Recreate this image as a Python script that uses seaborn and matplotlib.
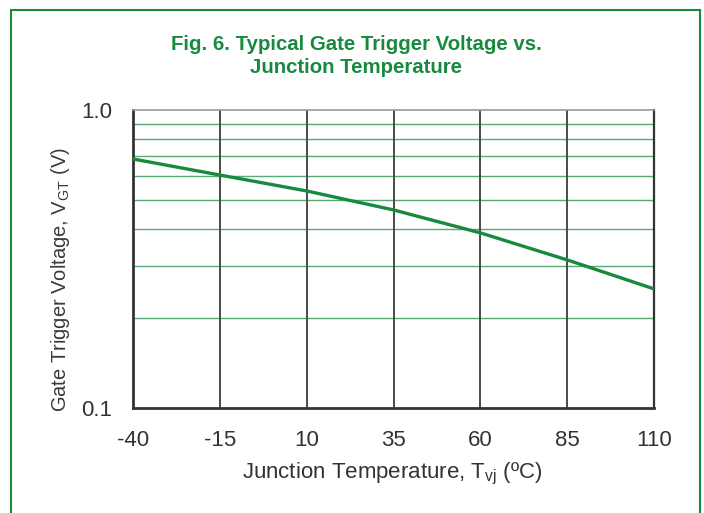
import matplotlib
matplotlib.use("Agg")
import matplotlib.pyplot as plt
import matplotlib.ticker as mticker
from matplotlib.patches import Rectangle
import seaborn as sns
import pandas as pd

# Data
temperature_c = [-40, -15, 10, 35, 60, 85, 110]
vgt_volts = [0.685, 0.605, 0.535, 0.462, 0.387, 0.314, 0.251]
x_ticks = [-40, -15, 10, 35, 60, 85, 110]
y_ticks = [0.1, 1.0]
y_tick_labels = ["0.1", "1.0"]
y_minor = [0.2, 0.3, 0.4, 0.5, 0.6, 0.7, 0.8, 0.9]

title = "Fig. 6. Typical Gate Trigger Voltage vs.\nJunction Temperature"
xlabel = "Junction Temperature, T$_{\\mathregular{vj}}$ (ºC)"
ylabel = "Gate Trigger Voltage, V$_{\\mathregular{GT}}$ (V)"

GREEN = "#188a3e"
GRID_GREEN = "#5aa876"
TEXT = "#333333"

sns.set_style("white")
plt.rcParams["font.family"] = ["Liberation Sans", "DejaVu Sans"]
plt.rcParams["mathtext.fontset"] = "custom"
plt.rcParams["mathtext.rm"] = "Liberation Sans"

df = pd.DataFrame({"T": temperature_c, "V": vgt_volts})

fig = plt.figure(figsize=(7.04, 5.13), dpi=100)
ax = fig.add_axes([133/704, 1-408/513, (654-133)/704, (408-110)/513])

# border around figure
fig.patches.append(Rectangle((11/704, -0.2), (700-11)/704, 1.2 - 10/513,
                             transform=fig.transFigure, fill=False,
                             edgecolor=GREEN, linewidth=1.5))

ax.set_yscale("log")
ax.set_ylim(0.1, 1.0)
ax.set_xlim(-40, 110)

# minor horizontal green grid
for v in y_minor:
    ax.axhline(v, color=GRID_GREEN, linewidth=1.0, zorder=1)
for t in x_ticks[1:-1]:
    ax.axvline(t, color="#4a4a4a", linewidth=1.4, zorder=1)

sns.lineplot(data=df, x="T", y="V", ax=ax, color=GREEN, linewidth=2.4, zorder=3)

ax.set_xticks(x_ticks)
ax.set_xticklabels([str(t) for t in x_ticks])
ax.yaxis.set_major_locator(mticker.FixedLocator(y_ticks))
ax.yaxis.set_major_formatter(mticker.FixedFormatter(y_tick_labels))
ax.yaxis.set_minor_locator(mticker.NullLocator())
ax.tick_params(axis="both", length=0, labelsize=16, colors=TEXT)
ax.tick_params(axis="x", pad=15.5)
ax.tick_params(axis="y", pad=15)

ax.set_xlabel(xlabel, fontsize=16, color=TEXT, va="center")
ax.xaxis.set_label_coords(0.497, -0.2215)
ax.set_ylabel(ylabel, fontsize=14.5, color="#3a3a3a", va="center")
ax.yaxis.set_label_coords(-0.140, 0.43)

for side in ["left", "bottom"]:
    ax.spines[side].set_color("#333333")
    ax.spines[side].set_linewidth(2.0)
ax.spines["right"].set_color("#333333")
ax.spines["right"].set_linewidth(1.6)
ax.spines["top"].set_color("#999999")
ax.spines["top"].set_linewidth(1.2)

fig.text(356/704, 1-56/513, title, ha="center", va="center", fontsize=14.7,
         fontweight="bold", color=GREEN, linespacing=1.22)

fig.savefig("out.png", dpi=100)
